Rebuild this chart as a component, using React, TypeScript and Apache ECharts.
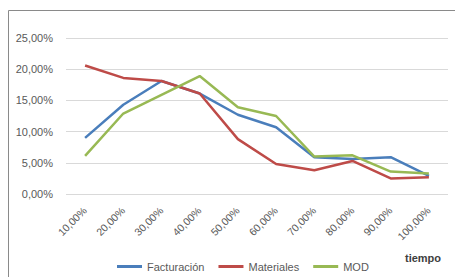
import React, { useEffect, useRef } from "react";
import * as echarts from "echarts";

const categories = ["10,00%", "20,00%", "30,00%", "40,00%", "50,00%", "60,00%", "70,00%", "80,00%", "90,00%", "100,00%"];
const facturacion = [9.0, 14.3, 18.1, 16.1, 12.7, 10.7, 5.9, 5.6, 5.9, 2.9];
const materiales = [20.6, 18.6, 18.1, 16.1, 8.8, 4.8, 3.8, 5.3, 2.5, 2.7];
const mod = [6.1, 12.9, 15.9, 18.9, 13.9, 12.5, 6.0, 6.2, 3.6, 3.3];
const seriesNames = ["Facturación", "Materiales", "MOD"];
const colors = ["#4a7ebb", "#be4b48", "#98b954"];
const xAxisTitle = "tiempo";

const fmt = (v: number) => v.toFixed(2).replace(".", ",") + "%";

export default function App() {
  const ref = useRef<HTMLDivElement>(null);
  useEffect(() => {
    if (!ref.current) return;
    const chart = echarts.init(ref.current, undefined, { renderer: "svg" });
    const font = "'Liberation Sans', Arial, sans-serif";
    const data = [facturacion, materiales, mod];
    chart.setOption({
      animation: false,
      backgroundColor: "#ffffff",
      textStyle: { fontFamily: font },
      grid: { left: 66, right: 7, top: 38, bottom: 83, containLabel: false },
      xAxis: {
        type: "category",
        data: categories,
        boundaryGap: true,
        axisLine: { show: false },
        axisTick: { show: false },
        axisLabel: { rotate: 45, fontSize: 10.5, color: "#595959", margin: 15, interval: 0, fontFamily: font },
      },
      yAxis: {
        type: "value",
        min: 0,
        max: 25,
        interval: 5,
        axisLine: { show: false },
        axisTick: { show: false },
        splitLine: { lineStyle: { color: "#d9d9d9", width: 1 } },
        axisLabel: { formatter: fmt, fontSize: 11, color: "#595959", margin: 13, fontFamily: font },
      },
      legend: {
        left: 112,
        top: 256,
        icon: "rect",
        itemWidth: 25,
        itemHeight: 3,
        itemGap: 14,
        textStyle: { fontSize: 11, color: "#595959", fontFamily: font },
        data: seriesNames,
      },
      graphic: [
        {
          type: "rect",
          shape: { x: 8.5, y: 10.5, width: 470, height: 290 },
          style: { fill: "none", stroke: "#8a8a8a", lineWidth: 1 },
          silent: true,
        },
        {
          type: "text",
          x: 423,
          y: 258,
          style: {
            text: xAxisTitle,
            fontSize: 11,
            fontWeight: "bold",
            fill: "#404040",
            align: "center",
            verticalAlign: "middle",
            fontFamily: font,
          },
        },
      ],
      series: seriesNames.map((name, i) => ({
        name,
        type: "line",
        data: data[i],
        symbol: "none",
        color: colors[i],
        lineStyle: { color: colors[i], width: 2.5 },
      })),
    });
    return () => chart.dispose();
  }, []);
  return <div ref={ref} style={{ position: "absolute", left: 0, top: 0, width: 455, height: 277 }} />;
}
